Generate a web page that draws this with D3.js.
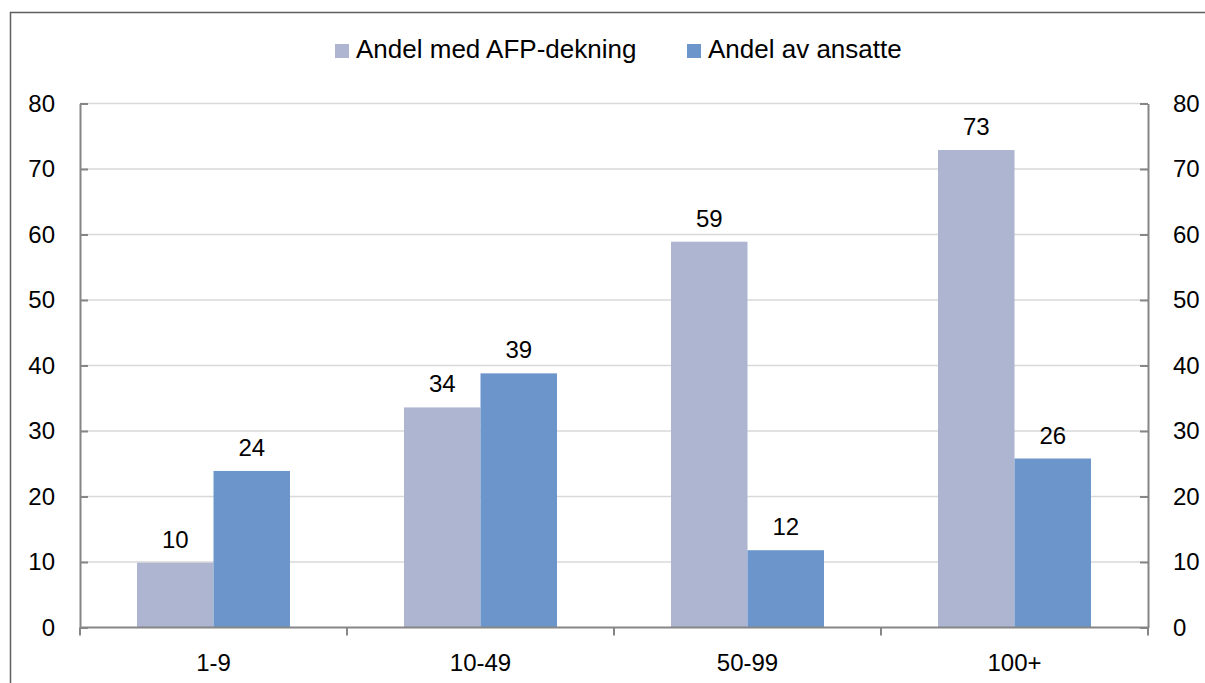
<!DOCTYPE html>
<html>
<head>
<meta charset="utf-8">
<script src="https://cdn.jsdelivr.net/npm/d3@7"></script>
<style>
  body { margin: 0; background: #fff; }
  svg { display: block; font-family: "Liberation Sans", Arial, sans-serif; }
</style>
</head>
<body>
<div id="chart"></div>
<script>
// chart data (bar heights, labels are rounded)
var categories = ["1-9", "10-49", "50-99", "100+"];
var afpValues = [9.9, 33.6, 58.9, 72.9];     // Andel med AFP-dekning
var ansatteValues = [23.9, 38.8, 11.8, 25.8]; // Andel av ansatte
var yTicks = [0, 10, 20, 30, 40, 50, 60, 70, 80];
var seriesNames = ["Andel med AFP-dekning", "Andel av ansatte"];

var W = 1205, H = 683;
var margin = {top: 103.5, right: 57, bottom: 55.5, left: 80};
var width = W - margin.left - margin.right,
    height = H - margin.top - margin.bottom;

var colors = ["#adb5d0", "#6c96cb"];

var svg = d3.select("#chart").append("svg")
    .attr("width", W)
    .attr("height", H);

// outer frame
svg.append("rect")
    .attr("x", 10.5).attr("y", 12.5)
    .attr("width", W + 20).attr("height", H + 20)
    .attr("fill", "none")
    .attr("stroke", "#5f5f5f")
    .attr("stroke-width", 1.5);

var g = svg.append("g")
    .attr("transform", "translate(" + margin.left + "," + margin.top + ")");

// scales
var xOuter = d3.scaleBand().domain(categories).range([0, width]).padding(0);
var x = d3.scaleBand().domain(categories).range([0, width])
    .paddingInner(0.427).paddingOuter(0.2135);
var xSub = d3.scaleBand().domain([0, 1]).range([0, x.bandwidth()]);
var y = d3.scaleLinear().domain([0, 80]).range([height, 0]);

// gridlines
g.append("g").selectAll("line")
    .data(yTicks.filter(function(d) { return d > 0; }))
    .enter().append("line")
    .attr("x1", 0).attr("x2", width)
    .attr("y1", function(d) { return y(d); })
    .attr("y2", function(d) { return y(d); })
    .attr("stroke", "#d9d9d9")
    .attr("stroke-width", 1.5);

// bars
var series = [afpValues, ansatteValues];
series.forEach(function(vals, si) {
  g.append("g").selectAll("rect")
      .data(vals)
      .enter().append("rect")
      .attr("x", function(d, i) { return x(categories[i]) + xSub(si); })
      .attr("y", function(d) { return y(d); })
      .attr("width", xSub.bandwidth())
      .attr("height", function(d) { return height - y(d); })
      .attr("fill", colors[si]);

  g.append("g").selectAll("text")
      .data(vals)
      .enter().append("text")
      .attr("x", function(d, i) { return x(categories[i]) + xSub(si) + xSub.bandwidth() / 2; })
      .attr("y", function(d) { return y(d) - 15; })
      .attr("text-anchor", "middle")
      .style("font-size", "24px")
      .attr("fill", "#000")
      .text(function(d) { return Math.round(d); });
});

// axes
function styleAxis(sel) {
  sel.select(".domain").attr("stroke", "#868686").attr("stroke-width", 2);
  sel.selectAll(".tick line").attr("stroke", "#868686").attr("stroke-width", 2);
  sel.selectAll("text").style("font-size", "24px").attr("fill", "#000");
  sel.attr("font-family", null);
}

g.append("g")
    .call(d3.axisLeft(y).tickValues(yTicks).tickSizeInner(-8).tickSizeOuter(0).tickPadding(25))
    .call(styleAxis);

g.append("g")
    .attr("transform", "translate(" + width + ",0)")
    .call(d3.axisRight(y).tickValues(yTicks).tickSizeInner(-8).tickSizeOuter(0).tickPadding(25))
    .call(styleAxis);

var xAxis = g.append("g")
    .attr("transform", "translate(0," + height + ")")
    .call(d3.axisBottom(xOuter).tickSize(0).tickPadding(26))
    .call(styleAxis);
xAxis.select(".domain").attr("d", "M0,0H" + width);

// category boundary ticks
var bounds = categories.map(function(c) { return xOuter(c); }).concat([width]);
xAxis.selectAll(".bound")
    .data(bounds)
    .enter().append("line")
    .attr("class", "bound")
    .attr("x1", function(d) { return d; })
    .attr("x2", function(d) { return d; })
    .attr("y1", 0).attr("y2", 8)
    .attr("stroke", "#868686")
    .attr("stroke-width", 2);

// legend
var legendX = [335, 687];
var legend = svg.append("g");
seriesNames.forEach(function(name, i) {
  legend.append("rect")
      .attr("x", legendX[i]).attr("y", 44)
      .attr("width", 14).attr("height", 14)
      .attr("fill", colors[i]);
  legend.append("text")
      .attr("x", legendX[i] + 21).attr("y", 58)
      .style("font-size", "26px")
      .attr("fill", "#000")
      .text(name);
});
</script>
</body>
</html>
